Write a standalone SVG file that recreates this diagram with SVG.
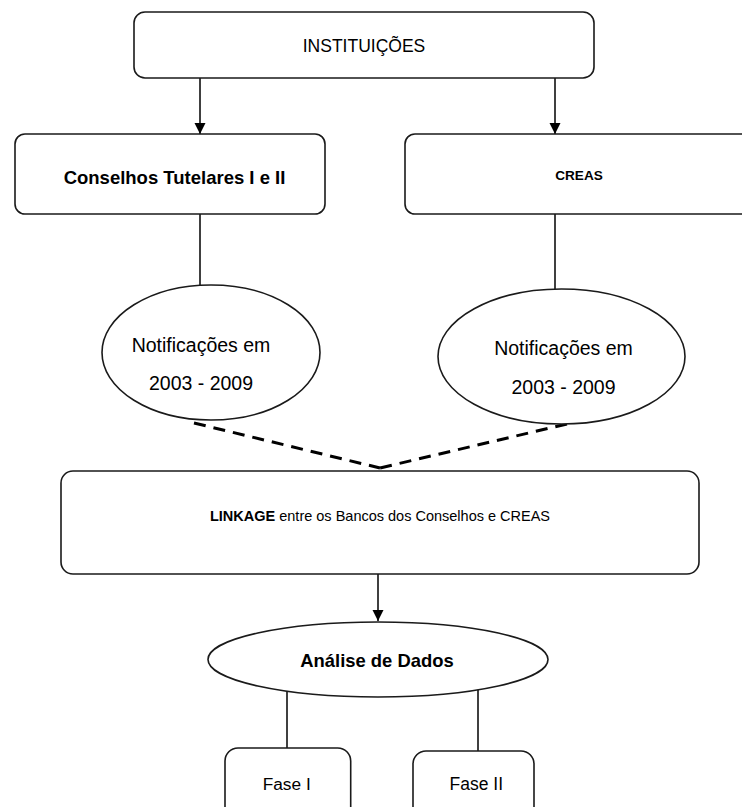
<svg xmlns="http://www.w3.org/2000/svg" width="742" height="807" viewBox="0 0 742 807">
<style>
  .box { fill: #ffffff; stroke: #1a1a1a; stroke-width: 1.6; }
  .ell { fill: #ffffff; stroke: #1a1a1a; stroke-width: 1.6; }
  .ln { fill: none; stroke: #000000; stroke-width: 1.5; }
  .dash { fill: none; stroke: #000000; stroke-width: 3; stroke-dasharray: 12 8; }
  text { font-family: "Liberation Sans", Arial, sans-serif; fill: #000000; text-anchor: middle; }
  .b { font-weight: bold; }
</style>
<defs>
  <marker id="arr" markerUnits="userSpaceOnUse" markerWidth="12" markerHeight="12" viewBox="0 0 12 12" refX="11" refY="6" orient="auto">
    <path d="M0,0.5 L11,6 L0,11.5 Z" fill="#000000"/>
  </marker>
</defs>
<rect width="742" height="807" fill="#ffffff"/>

<g id="connectors">
  <line class="ln" x1="200" y1="78" x2="200" y2="134" marker-end="url(#arr)"/>
  <line class="ln" x1="555" y1="78" x2="555" y2="134" marker-end="url(#arr)"/>
  <line class="ln" x1="200" y1="214" x2="200" y2="285"/>
  <line class="ln" x1="555" y1="214" x2="555" y2="289"/>
  <line class="dash" x1="194" y1="423" x2="380" y2="468"/>
  <line class="dash" x1="567" y1="424" x2="380" y2="468"/>
  <line class="ln" x1="378" y1="574" x2="378" y2="621" marker-end="url(#arr)"/>
  <line class="ln" x1="287" y1="692" x2="287" y2="748"/>
  <line class="ln" x1="478" y1="688" x2="478" y2="751"/>
</g>

<g id="instituicoes">
  <rect class="box" x="134" y="12" width="460" height="66" rx="11"/>
  <text x="364" y="52" font-size="17.5">INSTITUIÇÕES</text>
</g>

<g id="conselhos">
  <rect class="box" x="15" y="134" width="310" height="80" rx="10"/>
  <text class="b" x="174.5" y="184" font-size="18.5">Conselhos Tutelares I e II</text>
</g>

<g id="creas">
  <rect class="box" x="405" y="134" width="360" height="80" rx="10"/>
  <text class="b" x="579" y="180" font-size="13.6">CREAS</text>
</g>

<g id="notif1">
  <ellipse class="ell" cx="211" cy="352.5" rx="109" ry="67.5"/>
  <text x="201" y="352" font-size="19.5">Notificações em</text>
  <text x="201" y="390" font-size="19.5">2003 - 2009</text>
</g>

<g id="notif2">
  <ellipse class="ell" cx="561.5" cy="356.5" rx="123.5" ry="67.5"/>
  <text x="563.5" y="355" font-size="19.5">Notificações em</text>
  <text x="563.5" y="394" font-size="19.5">2003 - 2009</text>
</g>

<g id="linkage">
  <rect class="box" x="61" y="471" width="638" height="103" rx="12"/>
  <text x="380" y="521" font-size="14.5"><tspan class="b">LINKAGE</tspan> entre os Bancos dos Conselhos e CREAS</text>
</g>

<g id="analise">
  <ellipse class="ell" cx="378" cy="659.5" rx="170" ry="37.5"/>
  <text class="b" x="377" y="667" font-size="18.4">Análise de Dados</text>
</g>

<g id="fase1">
  <rect class="box" x="225" y="748" width="125.7" height="80" rx="13"/>
  <text x="286.7" y="790" font-size="17.3">Fase I</text>
</g>

<g id="fase2">
  <rect class="box" x="413" y="751" width="121" height="80" rx="13"/>
  <text x="476.3" y="790" font-size="17.5">Fase II</text>
</g>
</svg>
